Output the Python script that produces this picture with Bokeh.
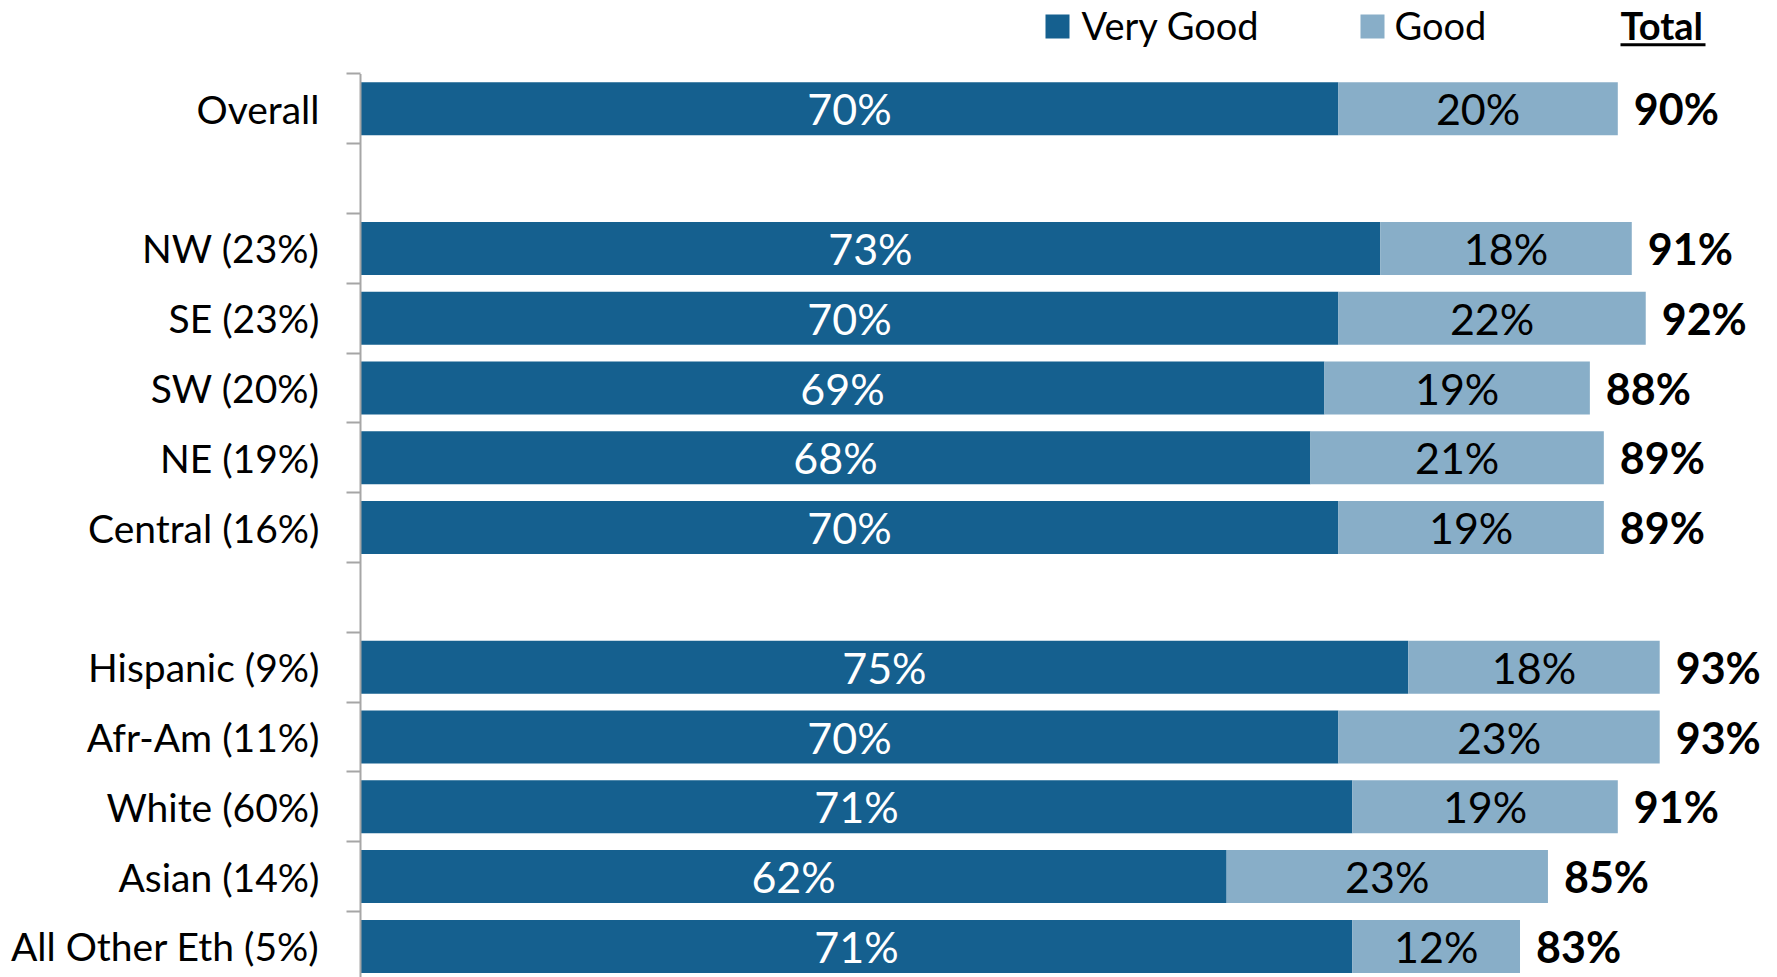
from bokeh.plotting import figure
from bokeh.models import Range1d, FixedTicker, ColumnDataSource
from bokeh.core.properties import value
from bokeh.embed import file_html
from bokeh.resources import INLINE

# ---------------- data ----------------
categories = ["Overall",
              "NW (23%)", "SE (23%)", "SW (20%)", "NE (19%)", "Central (16%)",
              "Hispanic (9%)", "Afr-Am (11%)", "White (60%)", "Asian (14%)", "All Other Eth (5%)"]
very_good = [70, 73, 70, 69, 68, 70, 75, 70, 71, 62, 71]
good = [20, 18, 22, 19, 21, 19, 18, 23, 19, 23, 12]
total = [90, 91, 92, 88, 89, 89, 93, 93, 91, 85, 83]
group_sizes = [1, 5, 5]
series_names = ["Very Good", "Good"]
total_title = "Total"

# ---------------- style ----------------
VG_COLOR = "#15608F"
GOOD_COLOR = "#88AEC8"
AXIS_COLOR = "#A6A6A6"
FONT = "Lato"

W, H = 1777, 977
PX = 13.97         # pixels per percentage point
SLOT = 69.8        # pixels per category slot
FRAME_LEFT = 358   # canvas x of frame left edge
X0 = 360           # canvas x of value 0
ROW0 = 108.3       # canvas y of first row center

# slot positions (one empty slot between groups)
ys = []
slot = 0
for n in group_sizes:
    for _ in range(n):
        ys.append(slot)
        slot += 1
    slot += 1
n_slots = slot - 1

x_start = -(X0 - FRAME_LEFT) / PX
x_end = x_start + (W - FRAME_LEFT) / PX
y_top = -ROW0 / SLOT
y_bottom = (H - ROW0) / SLOT


def dx(canvas_x):
    return (canvas_x - X0) / PX


def dy(canvas_y):
    return (canvas_y - ROW0) / SLOT


src = ColumnDataSource(dict(
    y=ys,
    vg=very_good,
    gd=good,
    end=[v + g for v, g in zip(very_good, good)],
    vg_mid=[v / 2 for v in very_good],
    gd_mid=[v + g / 2 for v, g in zip(very_good, good)],
    tot_x=[v + g + 16 / PX for v, g in zip(very_good, good)],
    vg_lbl=[f"{v}%" for v in very_good],
    gd_lbl=[f"{g}%" for g in good],
    tot_lbl=[f"{t}%" for t in total],
))

p = figure(width=W, height=H,
           x_range=Range1d(x_start, x_end), y_range=Range1d(y_bottom, y_top),
           output_backend="svg", toolbar_location=None, x_axis_location=None,
           min_border_left=FRAME_LEFT, min_border_right=0,
           min_border_top=0, min_border_bottom=0)
p.outline_line_color = None
p.xgrid.visible = False
p.ygrid.visible = False
p.background_fill_color = "white"
p.border_fill_color = "white"

ax = p.yaxis[0]
ax.ticker = FixedTicker(ticks=ys, minor_ticks=[b - 0.5 for b in range(n_slots + 1)])
ax.major_label_overrides = {y: c for y, c in zip(ys, categories)}
ax.major_tick_out = 0
ax.major_tick_in = 0
ax.minor_tick_out = 12
ax.minor_tick_in = 2
ax.minor_tick_line_color = AXIS_COLOR
ax.minor_tick_line_width = 2
ax.axis_line_color = None
ax.major_label_standoff = 27
ax.major_label_text_font = FONT
ax.major_label_text_font_size = "39px"
ax.major_label_text_color = "black"

# bars
p.hbar(y="y", left=0, right="vg", height=0.76, source=src,
       fill_color=VG_COLOR, line_color=None)
p.hbar(y="y", left="vg", right="end", height=0.76, source=src,
       fill_color=GOOD_COLOR, line_color=None)

# axis line
p.segment(x0=[0], y0=[-0.5], x1=[0], y1=[y_bottom], line_color=AXIS_COLOR, line_width=2)

# data labels
p.text(x="vg_mid", y="y", text="vg_lbl", source=src, text_align="center",
       text_baseline="middle", text_color="white", text_font=value(FONT),
       text_font_size="43px")
p.text(x="gd_mid", y="y", text="gd_lbl", source=src, text_align="center",
       text_baseline="middle", text_color="black", text_font=value(FONT),
       text_font_size="43px")
p.text(x="tot_x", y="y", text="tot_lbl", source=src, text_align="left",
       text_baseline="middle", text_color="black", text_font=value(FONT),
       text_font_size="43px", text_font_style="bold")

# legend
p.rect(x=[dx(1057), dx(1372)], y=[dy(26)] * 2, width=24, height=24,
       width_units="screen", height_units="screen",
       fill_color=[VG_COLOR, GOOD_COLOR], line_color=None)
p.text(x=[dx(1081), dx(1394)], y=[dy(24.5)] * 2, text=series_names,
       text_align="left", text_baseline="middle", text_color="black",
       text_font=value(FONT), text_font_size="38px")
p.text(x=[dx(1620)], y=[dy(24.5)], text=[total_title], text_align="left",
       text_baseline="middle", text_color="black", text_font=value(FONT),
       text_font_size="38px", text_font_style="bold")
p.segment(x0=[dx(1620)], y0=[dy(44.3)], x1=[dx(1705)], y1=[dy(44.3)],
          line_color="black", line_width=3)

open("out.html", "w").write(file_html(p, INLINE))
